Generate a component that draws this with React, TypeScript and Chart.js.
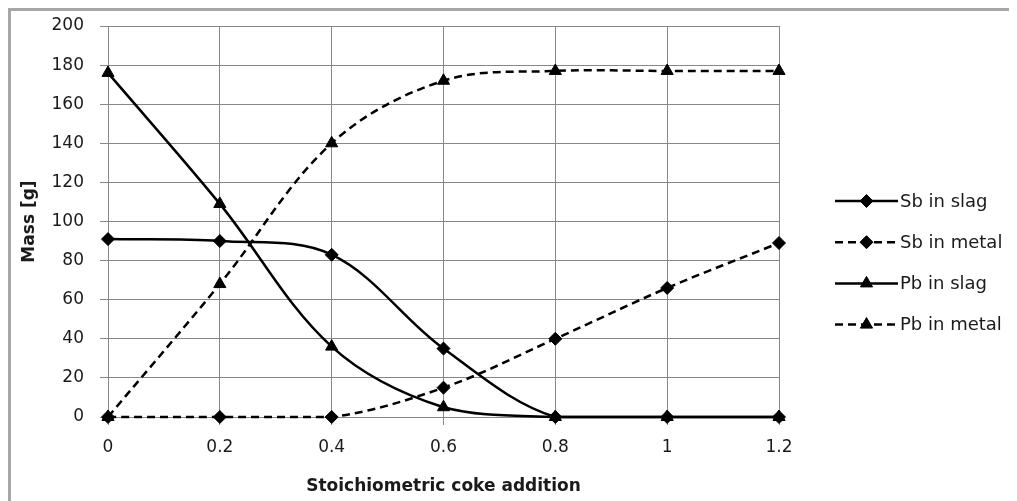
import React, { useEffect, useRef } from 'react';
import { Chart, registerables } from 'chart.js';
import { drawPoint } from 'chart.js/helpers';

Chart.register(...registerables);

// Stoichiometric coke addition (x) and the mass [g] of each element in slag / metal
const cokeAddition = [0, 0.2, 0.4, 0.6, 0.8, 1, 1.2];
const sbInSlag = [91, 90, 83, 35, 0, 0, 0];
const sbInMetal = [0, 0, 0, 15, 40, 66, 89];
const pbInSlag = [176, 109, 36, 5, 0, 0, 0];
const pbInMetal = [0, 68, 140, 172, 177, 177, 177];

const seriesNames = ['Sb in slag', 'Sb in metal', 'Pb in slag', 'Pb in metal'];
const xTickValues = [0, 0.2, 0.4, 0.6, 0.8, 1, 1.2];
const yTickValues = [0, 20, 40, 60, 80, 100, 120, 140, 160, 180, 200];

const xTitle = 'Stoichiometric coke addition';
const yTitle = 'Mass [g]';

const FONT = "'DejaVu Sans', sans-serif";
const GRID = '#878787';
const DASH = [8, 5];

const toPoints = (ys: number[]) => cokeAddition.map((x, i) => ({ x, y: ys[i] }));

// Legend on the right: a short line sample with the marker in its middle
const sideLegend = {
  id: 'sideLegend',
  afterDraw(chart: any) {
    const { ctx } = chart;
    const x0 = 824;
    const x1 = 887;
    const top = 190;
    const gap = 41.2;
    ctx.save();
    chart.data.datasets.forEach((ds: any, i: number) => {
      const y = top + i * gap;
      ctx.strokeStyle = '#000';
      ctx.lineWidth = 2.5;
      ctx.setLineDash(ds.borderDash || []);
      ctx.beginPath();
      ctx.moveTo(x0, y);
      ctx.lineTo(x1, y);
      ctx.stroke();
      ctx.setLineDash([]);
      ctx.fillStyle = '#000';
      ctx.lineWidth = 1;
      drawPoint(ctx, { pointStyle: ds.pointStyle, radius: ds.pointRadius, rotation: 0, borderWidth: 1 }, (x0 + x1) / 2, y);
      ctx.font = `18px ${FONT}`;
      ctx.textBaseline = 'middle';
      ctx.textAlign = 'left';
      ctx.fillStyle = '#1a1a1a';
      ctx.fillText(ds.label, x1 + 2, y + 1);
    });
    ctx.restore();
  },
};

export default function App() {
  const canvasRef = useRef<HTMLCanvasElement | null>(null);

  useEffect(() => {
    document.documentElement.style.overflow = 'hidden';
    document.body.style.overflow = 'hidden';
    const canvas = canvasRef.current;
    if (!canvas) return;

    const makeSet = (i: number, ys: number[], dashed: boolean, style: string, r: number) => ({
      label: seriesNames[i],
      data: toPoints(ys),
      borderColor: '#000',
      backgroundColor: '#000',
      borderWidth: 2.5,
      borderDash: dashed ? DASH : [],
      pointStyle: style,
      pointRadius: r,
      pointBackgroundColor: '#000',
      pointBorderColor: '#000',
      pointBorderWidth: 1,
      tension: 0.35,
      clip: false,
    });

    const chart = new Chart(canvas, {
      type: 'line',
      data: {
        datasets: [
          makeSet(0, sbInSlag, false, 'rectRot', 6.5),
          makeSet(1, sbInMetal, true, 'rectRot', 6.5),
          makeSet(2, pbInSlag, false, 'triangle', 7),
          makeSet(3, pbInMetal, true, 'triangle', 7),
        ],
      },
      options: {
        responsive: false,
        animation: false,
        events: [],
        layout: { padding: { left: 0, right: 238, top: 15, bottom: 4 } },
        plugins: {
          legend: { display: false },
          tooltip: { enabled: false },
        },
        scales: {
          x: {
            type: 'linear',
            min: 0,
            max: 1.2,
            afterBuildTicks: (scale: any) => {
              scale.ticks = xTickValues.map((value) => ({ value }));
            },
            afterFit: (scale: any) => {
              scale.height = 80;
            },
            grid: { color: GRID, lineWidth: 1, tickLength: 8 },
            border: { color: GRID, width: 1 },
            ticks: {
              padding: 12,
              color: '#1a1a1a',
              font: { family: FONT, size: 17 },
              maxRotation: 0,
              callback: (v: any) => String(v),
            },
            title: {
              display: true,
              text: xTitle,
              color: '#1a1a1a',
              font: { family: FONT, size: 17, weight: 'bold' },
              padding: { top: 0, bottom: 0 },
            },
          },
          y: {
            type: 'linear',
            min: 0,
            max: 200,
            afterBuildTicks: (scale: any) => {
              scale.ticks = yTickValues.map((value) => ({ value }));
            },
            afterFit: (scale: any) => {
              scale.width = 97;
              // the label gap should not push the plot area down
              scale.paddingTop = 0;
              scale.paddingBottom = 0;
            },
            grid: { color: GRID, lineWidth: 1, tickLength: 8 },
            border: { color: GRID, width: 1 },
            ticks: {
              padding: 16,
              color: '#1a1a1a',
              font: { family: FONT, size: 17 },
              callback: (v: any) => String(v),
            },
            title: {
              display: true,
              text: yTitle,
              color: '#1a1a1a',
              font: { family: FONT, size: 17, weight: 'bold' },
              padding: { top: 8, bottom: 0 },
            },
          },
        },
      },
      plugins: [sideLegend],
    } as any);

    return () => chart.destroy();
  }, []);

  return (
    <div
      style={{
        width: 1040,
        height: 520,
        border: '3px solid #a6a6a6',
        background: '#fff',
        position: 'relative',
      }}
    >
      <canvas ref={canvasRef} width={1006} height={490} style={{ display: 'block' }} />
    </div>
  );
}
